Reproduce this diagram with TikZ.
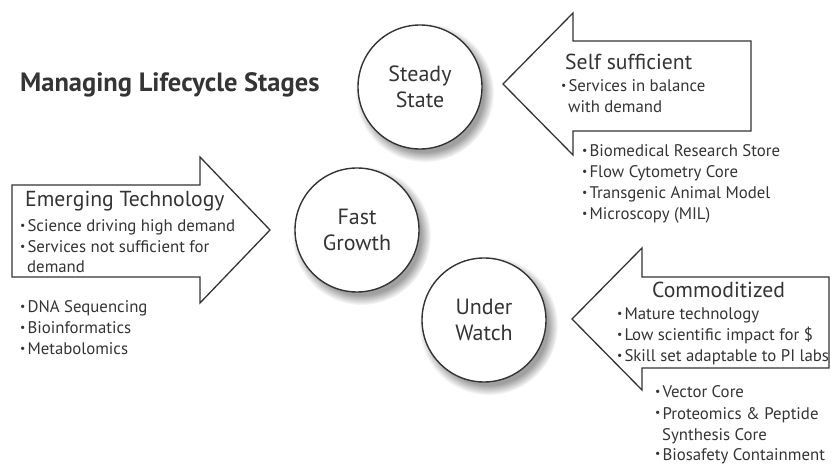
\documentclass[tikz,border=0pt]{standalone}
\usepackage{fontspec}
\setmainfont{PT Sans}
\usetikzlibrary{shadows}
\definecolor{ink}{RGB}{52,52,52}
\newcommand*{\bul}{\raisebox{.25ex}{\scalebox{.7}{•}}\hspace{2pt}}
\tikzset{%
  stage/.style={draw=ink, line width=1.4pt, circle, fill=white, minimum size=124pt,
    inner sep=0pt, align=center, text=ink, font=\fontsize{22}{26}\selectfont,
    circular drop shadow={shadow xshift=4pt, shadow yshift=-5pt, shadow scale=1.12, opacity=.75}},% lifecycle stage
  block/.style={draw=ink, line width=1.3pt, fill=white},% block arrow outline
  heading/.style={anchor=base west, text=ink, inner sep=0pt, font=\fontsize{21.7}{25}\selectfont},
  item/.style={anchor=base west, text=ink, inner sep=0pt, font=\fontsize{16.8}{21}\selectfont}
}
\begin{document}
\begin{tikzpicture}[x=1pt, y=-1pt]
\useasboundingbox (0,0) rectangle (831,465);

\node[anchor=base west, text=ink, inner sep=0pt, font=\fontsize{26.5}{30}\selectfont\bfseries] (title) at (20,92) {Managing Lifecycle Stages};

% the three stages
\node[stage] (steady) at (420,87) {Steady\\State};
\node[stage] (fast) at (357,230) {Fast\\Growth};
\node[stage] (watch) at (484,320) {Under\\Watch};

% self sufficient
\draw[block] (503,84) -- (573,13) -- (573,41) -- (751,41) -- (751,131) -- (573,131) -- (573,155) -- cycle;
\node[heading] (selfhead) at (565,70) {Self sufficient};
\node[item] (selfpt) at (561,92) {\bul Services in balance};
\node[item] (selfpt2) at (568,113) {with demand};
\foreach \t [count=\i from 0] in {Biomedical Research Store, Flow Cytometry Core,
    Transgenic Animal Model, Microscopy (MIL)}
  \node[item] (selflist-\i) at (582,157+21*\i) {\bul \t};

% emerging technology
\draw[block] (12,185) -- (200,185) -- (200,157) -- (270,230) -- (200,303) -- (200,277) -- (12,277) -- cycle;
\node[heading] (emerghead) at (25,207) {Emerging Technology};
\node[item] (emergpt-0) at (20,232) {\bul Science driving high demand};
\node[item] (emergpt-1) at (20,253) {\bul Services not sufficient for};
\node[item] (emergpt-2) at (27,273) {demand};
\foreach \t [count=\i from 0] in {DNA Sequencing, Bioinformatics, Metabolomics}
  \node[item] (emerglist-\i) at (20,313+21*\i) {\bul \t};

% commoditized
\draw[block] (572,319) -- (642,248) -- (642,277) -- (829,277) -- (829,368) -- (642,368) -- (642,390) -- cycle;
\node[heading] (comhead) at (652,298) {Commoditized};
\foreach \t [count=\i from 0] in {Mature technology, Low scientific impact for \$,
    Skill set adaptable to PI labs}
  \node[item] (compt-\i) at (617,320+21*\i) {\bul \t};
\node[item] (comlist-0) at (655,398) {\bul Vector Core};
\node[item] (comlist-1) at (655,419) {\bul Proteomics \& Peptide};
\node[item] (comlist-2) at (662,440) {Synthesis Core};
\node[item] (comlist-3) at (655,460) {\bul Biosafety Containment};

\end{tikzpicture}
\end{document}
